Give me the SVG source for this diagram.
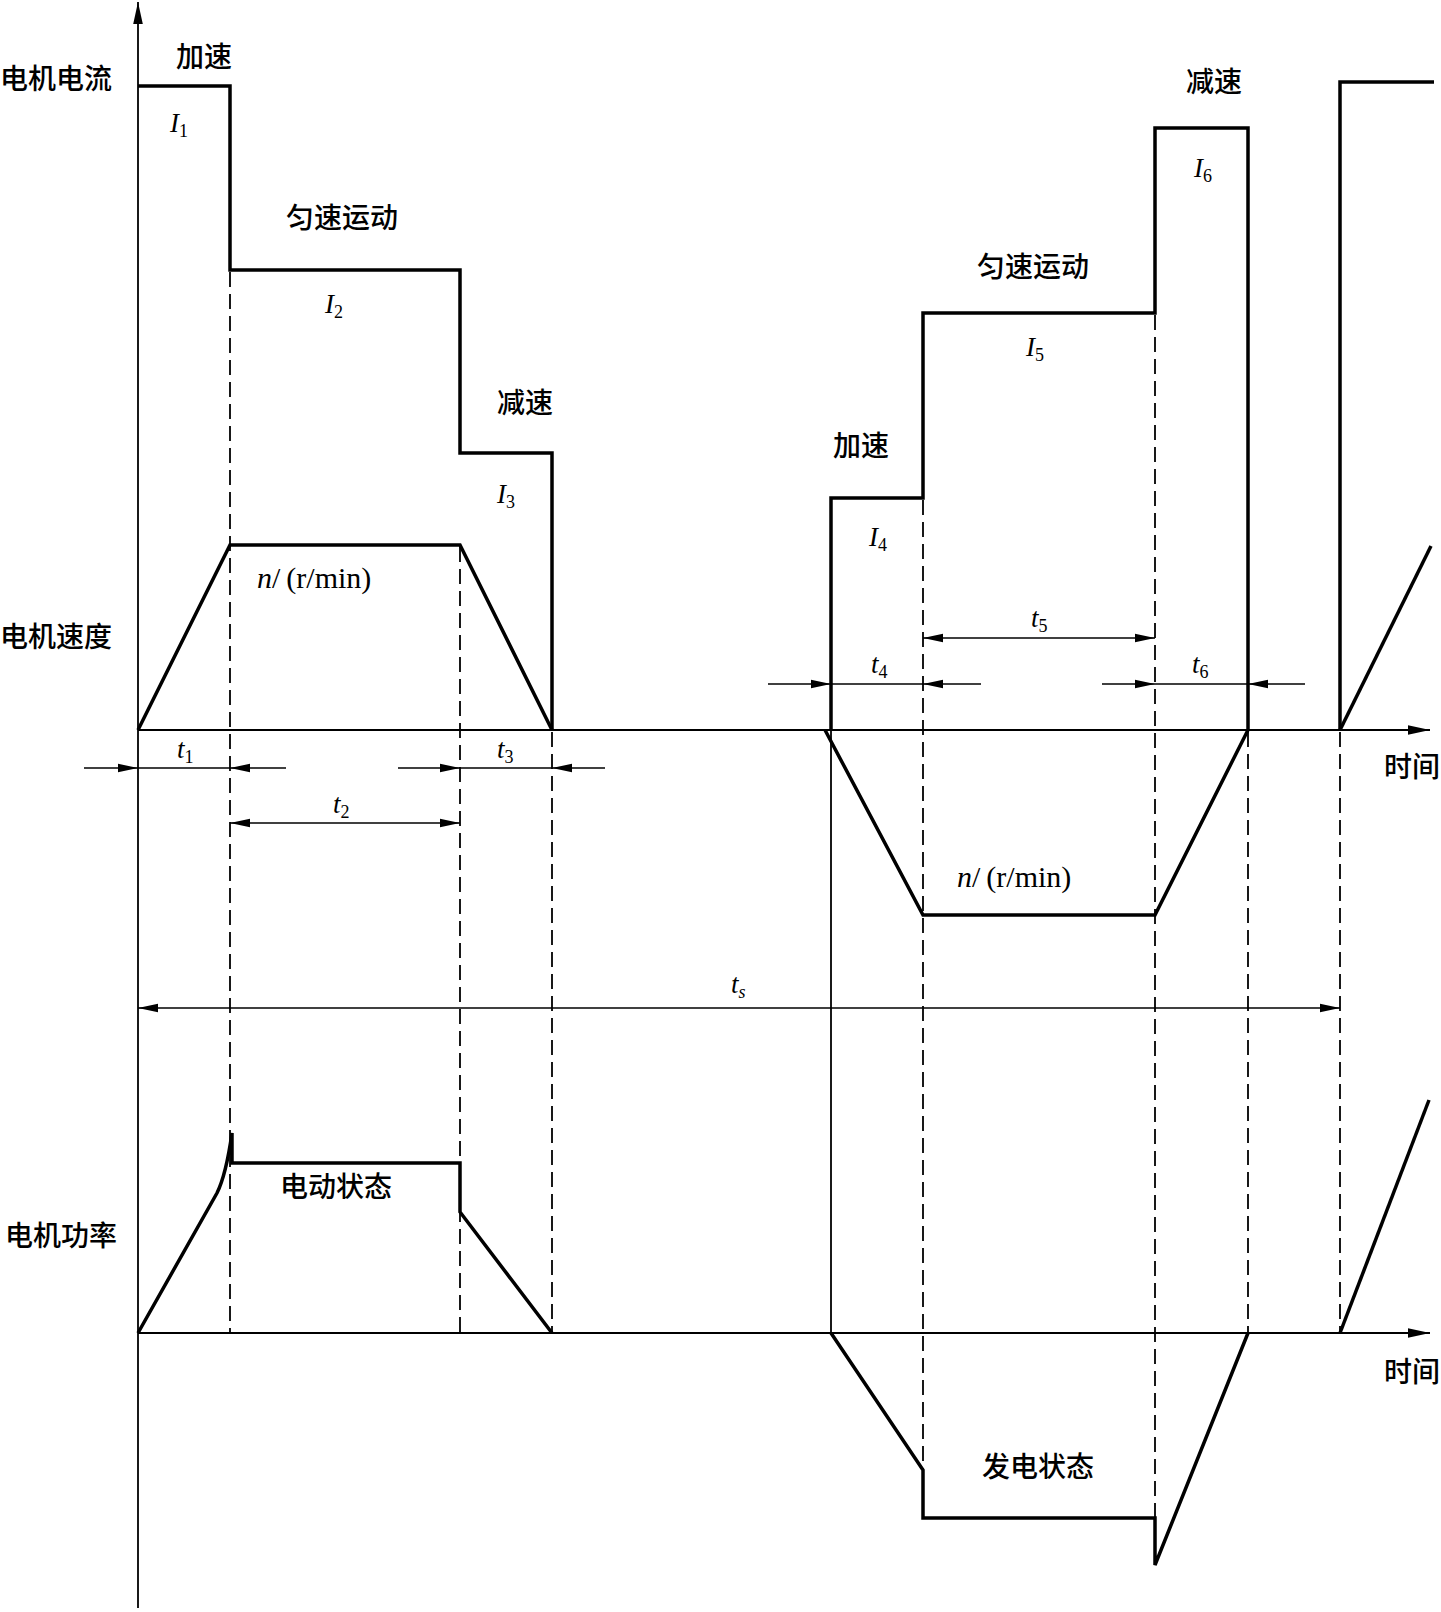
<svg xmlns="http://www.w3.org/2000/svg" width="1441" height="1612" viewBox="0 0 1441 1612">
<style>
.thick{fill:none;stroke:#000;stroke-width:3.5;stroke-linejoin:miter}
.thin{fill:none;stroke:#000;stroke-width:1.8}
.dash{fill:none;stroke:#000;stroke-width:1.8;stroke-dasharray:15 7}
.dim{fill:none;stroke:#000;stroke-width:1.6}
.cn{font-family:"Noto Sans CJK SC","Noto Sans",sans-serif;font-size:28px;font-weight:500;fill:#000}
.sym{font-family:"Liberation Serif","DejaVu Serif",serif;font-size:27px;fill:#000}
.unit{font-family:"Liberation Serif","DejaVu Serif",serif;font-size:30px;fill:#000}
.it{font-style:italic}
.sub{font-size:18px}
</style>
<defs>
<marker id="arr" markerUnits="userSpaceOnUse" markerWidth="22" markerHeight="10" refX="20" refY="5" orient="auto-start-reverse">
<path d="M0,0.8 L20,5 L0,9.2 z" fill="#000"/>
</marker>
<marker id="axarr" markerUnits="userSpaceOnUse" markerWidth="24" markerHeight="12" refX="22" refY="6" orient="auto-start-reverse">
<path d="M0,1.2 L22,6 L0,10.8 z" fill="#000"/>
</marker>
</defs>
<rect width="1441" height="1612" fill="#fff"/>
<g id="axes">
<line class="thin" x1="138" y1="1608" x2="138" y2="2" marker-end="url(#axarr)"/>
<line class="thin" x1="138" y1="730" x2="1430" y2="730" marker-end="url(#axarr)"/>
<line class="thin" x1="138" y1="1333" x2="1430" y2="1333" marker-end="url(#axarr)"/>
</g>
<g id="guides">
<line class="dash" x1="230" y1="272" x2="230" y2="1333"/>
<line class="dash" x1="460" y1="547" x2="460" y2="1333"/>
<line class="dash" x1="552" y1="732" x2="552" y2="1333"/>
<line class="thin" x1="831" y1="730" x2="831" y2="1333"/>
<line class="dash" x1="923" y1="500" x2="923" y2="1470"/>
<line class="dash" x1="1155" y1="315" x2="1155" y2="1518"/>
<line class="dash" x1="1248" y1="732" x2="1248" y2="1333"/>
<line class="dash" x1="1340" y1="732" x2="1340" y2="1333"/>
</g>
<g id="current">
<path class="thick" d="M138,86 L230,86 L230,270 L460,270 L460,453 L552,453 L552,730"/>
<path class="thick" d="M831,730 L831,498 L923,498 L923,313 L1155,313 L1155,128 L1248,128 L1248,730"/>
<path class="thick" d="M1340,730 L1340,82 L1434,82"/>
</g>
<g id="speed">
<path class="thick" d="M138,730 L230,545 L460,545 L552,730"/>
<path class="thick" d="M825,730 L923,915 L1155,915 L1248,730"/>
<path class="thick" d="M1340,730 L1431,546"/>
</g>
<g id="power">
<path class="thick" d="M138,1333 L217,1193 Q226,1175 232,1133 L232,1163 L460,1163 L460,1212 L552,1333"/>
<path class="thick" d="M831,1333 L923,1470 L923,1518 L1155,1518 L1155,1565 L1248,1333"/>
<path class="thick" d="M1340,1333 L1429,1100"/>
</g>
<g id="connectors">
<line class="dim" x1="84" y1="768" x2="138" y2="768" marker-end="url(#arr)"/>
<line class="dim" x1="138" y1="768" x2="230" y2="768"/>
<line class="dim" x1="286" y1="768" x2="230" y2="768" marker-end="url(#arr)"/>
<line class="dim" x1="398" y1="768" x2="460" y2="768" marker-end="url(#arr)"/>
<line class="dim" x1="460" y1="768" x2="552" y2="768"/>
<line class="dim" x1="605" y1="768" x2="552" y2="768" marker-end="url(#arr)"/>
<line class="dim" x1="230" y1="823" x2="460" y2="823" marker-start="url(#arr)" marker-end="url(#arr)"/>
<line class="dim" x1="768" y1="684" x2="831" y2="684" marker-end="url(#arr)"/>
<line class="dim" x1="831" y1="684" x2="923" y2="684"/>
<line class="dim" x1="981" y1="684" x2="923" y2="684" marker-end="url(#arr)"/>
<line class="dim" x1="923" y1="638" x2="1155" y2="638" marker-start="url(#arr)" marker-end="url(#arr)"/>
<line class="dim" x1="1102" y1="684" x2="1155" y2="684" marker-end="url(#arr)"/>
<line class="dim" x1="1155" y1="684" x2="1248" y2="684"/>
<line class="dim" x1="1305" y1="684" x2="1248" y2="684" marker-end="url(#arr)"/>
<line class="dim" x1="138" y1="1008" x2="1340" y2="1008" marker-start="url(#arr)" marker-end="url(#arr)"/>
</g>
<g id="labels">
<text class="cn" x="0" y="89">电机电流</text>
<text class="cn" x="0" y="647">电机速度</text>
<text class="cn" x="5" y="1246">电机功率</text>
<text class="cn" x="176" y="67">加速</text>
<text class="cn" x="286" y="228">匀速运动</text>
<text class="cn" x="497" y="413">减速</text>
<text class="cn" x="833" y="456">加速</text>
<text class="cn" x="977" y="277">匀速运动</text>
<text class="cn" x="1186" y="92">减速</text>
<text class="cn" x="280" y="1197">电动状态</text>
<text class="cn" x="982" y="1477">发电状态</text>
<text class="cn" x="1384" y="777">时间</text>
<text class="cn" x="1384" y="1382">时间</text>
<text class="sym" x="170" y="132"><tspan class="it">I</tspan><tspan class="sub" dy="5">1</tspan></text>
<text class="sym" x="325" y="313"><tspan class="it">I</tspan><tspan class="sub" dy="5">2</tspan></text>
<text class="sym" x="497" y="503"><tspan class="it">I</tspan><tspan class="sub" dy="5">3</tspan></text>
<text class="sym" x="869" y="546"><tspan class="it">I</tspan><tspan class="sub" dy="5">4</tspan></text>
<text class="sym" x="1026" y="356"><tspan class="it">I</tspan><tspan class="sub" dy="5">5</tspan></text>
<text class="sym" x="1194" y="177"><tspan class="it">I</tspan><tspan class="sub" dy="5">6</tspan></text>
<text class="unit" x="257" y="588"><tspan class="it">n</tspan>/<tspan dx="6">(r/min)</tspan></text>
<text class="unit" x="957" y="887"><tspan class="it">n</tspan>/<tspan dx="6">(r/min)</tspan></text>
<text class="sym" x="177" y="758"><tspan class="it">t</tspan><tspan class="sub" dy="5">1</tspan></text>
<text class="sym" x="333" y="813"><tspan class="it">t</tspan><tspan class="sub" dy="5">2</tspan></text>
<text class="sym" x="497" y="758"><tspan class="it">t</tspan><tspan class="sub" dy="5">3</tspan></text>
<text class="sym" x="871" y="673"><tspan class="it">t</tspan><tspan class="sub" dy="5">4</tspan></text>
<text class="sym" x="1031" y="627"><tspan class="it">t</tspan><tspan class="sub" dy="5">5</tspan></text>
<text class="sym" x="1192" y="673"><tspan class="it">t</tspan><tspan class="sub" dy="5">6</tspan></text>
<text class="sym" x="731" y="993"><tspan class="it">t</tspan><tspan class="sub it" dy="5">s</tspan></text>
</g>
</svg>
